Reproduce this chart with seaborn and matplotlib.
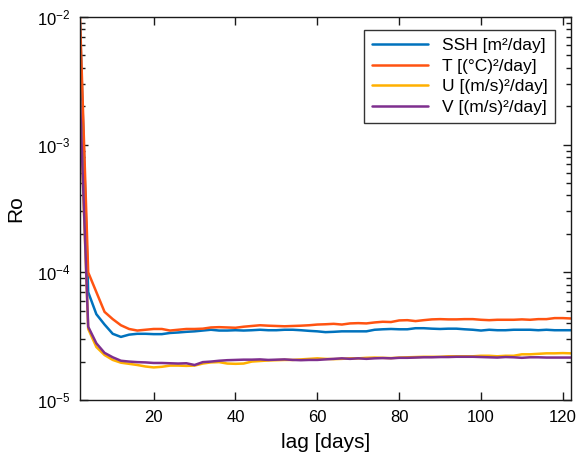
import numpy as np
import pandas as pd
import matplotlib
matplotlib.use("Agg")
import matplotlib.pyplot as plt
import seaborn as sns
from matplotlib.ticker import LogLocator, FixedLocator, NullLocator

lag = list(range(2, 123, 2))

ssh = [9e-3, 7e-5, 4.7e-5, 3.9e-5, 3.3e-5, 3.12e-5, 3.25e-5, 3.3e-5, 3.3e-5, 3.28e-5,
       3.28e-5, 3.35e-5, 3.38e-5, 3.42e-5, 3.45e-5, 3.5e-5, 3.55e-5, 3.5e-5, 3.5e-5, 3.52e-5,
       3.5e-5, 3.52e-5, 3.55e-5, 3.52e-5, 3.52e-5, 3.55e-5, 3.55e-5, 3.52e-5, 3.48e-5, 3.45e-5,
       3.4e-5, 3.42e-5, 3.45e-5, 3.45e-5, 3.45e-5, 3.45e-5, 3.55e-5, 3.58e-5, 3.6e-5, 3.58e-5,
       3.58e-5, 3.65e-5, 3.65e-5, 3.62e-5, 3.6e-5, 3.62e-5, 3.62e-5, 3.58e-5, 3.55e-5, 3.5e-5,
       3.55e-5, 3.52e-5, 3.52e-5, 3.55e-5, 3.55e-5, 3.55e-5, 3.52e-5, 3.55e-5, 3.52e-5, 3.52e-5,
       3.52e-5]

temp = [1e-2, 1.0e-4, 7.0e-5, 4.9e-5, 4.3e-5, 3.85e-5, 3.6e-5, 3.5e-5, 3.55e-5, 3.6e-5,
        3.6e-5, 3.5e-5, 3.55e-5, 3.6e-5, 3.6e-5, 3.62e-5, 3.7e-5, 3.72e-5, 3.7e-5, 3.68e-5,
        3.75e-5, 3.8e-5, 3.85e-5, 3.82e-5, 3.8e-5, 3.78e-5, 3.8e-5, 3.82e-5, 3.85e-5, 3.9e-5,
        3.92e-5, 3.95e-5, 3.9e-5, 3.98e-5, 4.0e-5, 3.98e-5, 4.05e-5, 4.1e-5, 4.08e-5, 4.2e-5,
        4.22e-5, 4.15e-5, 4.22e-5, 4.28e-5, 4.3e-5, 4.28e-5, 4.28e-5, 4.3e-5, 4.3e-5, 4.25e-5,
        4.22e-5, 4.25e-5, 4.25e-5, 4.25e-5, 4.28e-5, 4.25e-5, 4.3e-5, 4.3e-5, 4.38e-5, 4.38e-5,
        4.35e-5]

u = [2.2e-3, 3.6e-5, 2.6e-5, 2.25e-5, 2.06e-5, 1.96e-5, 1.92e-5, 1.88e-5, 1.83e-5, 1.8e-5,
     1.82e-5, 1.86e-5, 1.86e-5, 1.85e-5, 1.86e-5, 1.93e-5, 1.97e-5, 1.98e-5, 1.93e-5, 1.92e-5,
     1.93e-5, 2.0e-5, 2.02e-5, 2.04e-5, 2.05e-5, 2.06e-5, 2.06e-5, 2.08e-5, 2.1e-5, 2.12e-5,
     2.1e-5, 2.09e-5, 2.1e-5, 2.12e-5, 2.12e-5, 2.14e-5, 2.15e-5, 2.14e-5, 2.13e-5, 2.15e-5,
     2.16e-5, 2.17e-5, 2.18e-5, 2.18e-5, 2.18e-5, 2.2e-5, 2.2e-5, 2.2e-5, 2.2e-5, 2.22e-5,
     2.22e-5, 2.2e-5, 2.22e-5, 2.22e-5, 2.28e-5, 2.28e-5, 2.3e-5, 2.32e-5, 2.32e-5, 2.33e-5,
     2.32e-5]

v = [2.3e-3, 3.75e-5, 2.78e-5, 2.34e-5, 2.16e-5, 2.03e-5, 2.0e-5, 1.98e-5, 1.97e-5, 1.95e-5,
     1.95e-5, 1.94e-5, 1.93e-5, 1.94e-5, 1.88e-5, 1.98e-5, 2.0e-5, 2.03e-5, 2.05e-5, 2.06e-5,
     2.07e-5, 2.07e-5, 2.08e-5, 2.06e-5, 2.07e-5, 2.08e-5, 2.06e-5, 2.05e-5, 2.06e-5, 2.06e-5,
     2.08e-5, 2.1e-5, 2.12e-5, 2.1e-5, 2.12e-5, 2.1e-5, 2.12e-5, 2.13e-5, 2.12e-5, 2.14e-5,
     2.14e-5, 2.15e-5, 2.16e-5, 2.16e-5, 2.17e-5, 2.17e-5, 2.18e-5, 2.18e-5, 2.18e-5, 2.17e-5,
     2.16e-5, 2.15e-5, 2.17e-5, 2.16e-5, 2.14e-5, 2.16e-5, 2.16e-5, 2.15e-5, 2.15e-5, 2.15e-5,
     2.15e-5]

labels = ["SSH [m²/day]", "T [(°C)²/day]", "U [(m/s)²/day]", "V [(m/s)²/day]"]
colors = ["#0072BD", "#FF5311", "#FFB000", "#7E2F8E"]
xticks = [20, 40, 60, 80, 100, 120]

df = pd.concat([
    pd.DataFrame({"lag": lag, "Ro": vals, "var": lab})
    for vals, lab in zip([ssh, temp, u, v], labels)
], ignore_index=True)

sns.set_style("ticks")
plt.rcParams["font.family"] = ["Liberation Sans", "DejaVu Sans"]
plt.rcParams["mathtext.fontset"] = "custom"
plt.rcParams["mathtext.rm"] = "Liberation Sans"
plt.rcParams["mathtext.it"] = "Liberation Sans"
plt.rcParams["mathtext.bf"] = "Liberation Sans"
plt.rcParams["xtick.direction"] = "in"
plt.rcParams["ytick.direction"] = "in"
plt.rcParams["xtick.top"] = True
plt.rcParams["ytick.right"] = True
plt.rcParams["xtick.color"] = "black"
plt.rcParams["ytick.color"] = "black"
plt.rcParams["text.color"] = "black"
plt.rcParams["axes.labelcolor"] = "black"

fig = plt.figure(figsize=(5.76, 4.55), dpi=100)
ax = fig.add_axes([80 / 576, 55 / 455, 491 / 576, 383 / 455])

sns.lineplot(data=df, x="lag", y="Ro", hue="var", hue_order=labels,
             palette=colors, linewidth=1.8, ax=ax, legend=True)

ax.set_yscale("log")
ax.set_ylim(1e-5, 1e-2)
ax.set_xlim(2, 122)
ax.xaxis.set_major_locator(FixedLocator(xticks))
ax.xaxis.set_minor_locator(NullLocator())
ax.yaxis.set_major_locator(LogLocator(base=10, numticks=10))
ax.yaxis.set_minor_locator(LogLocator(base=10, subs=np.arange(2, 10), numticks=20))

for sp in ax.spines.values():
    sp.set_visible(True)
    sp.set_color("#1a1a1a")
    sp.set_linewidth(1.0)

ax.tick_params(which="both", direction="in", top=True, right=True,
               bottom=True, left=True, color="#1a1a1a", labelcolor="black", width=1.0)
ax.tick_params(which="major", length=6, labelsize=12, pad=7)
ax.tick_params(which="minor", length=3.5)

ax.set_xlabel("lag [days]", fontsize=15, labelpad=6, color="black")
ax.set_ylabel("Ro", fontsize=15, labelpad=8, color="black")

leg = ax.legend(loc="upper right", bbox_to_anchor=(0.968, 0.966), borderaxespad=0,
                fontsize=12.5, frameon=True, fancybox=False, edgecolor="black",
                handlelength=3.2, borderpad=0.45, labelspacing=0.32,
                handletextpad=0.8)
leg.get_frame().set_linewidth(1.0)
for t in leg.get_texts():
    t.set_color("black")
for lh in leg.get_lines():
    lh.set_linewidth(1.8)

fig.savefig("out.png", dpi=100)
